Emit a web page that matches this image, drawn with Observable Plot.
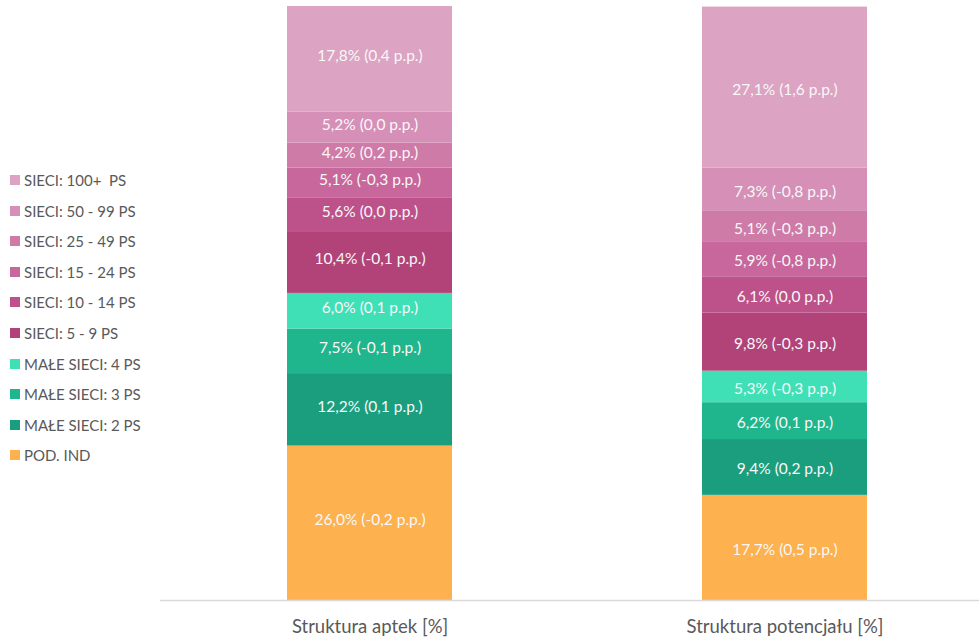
<!DOCTYPE html>
<html>
<head>
<meta charset="utf-8">
<script src="https://cdn.jsdelivr.net/npm/d3@7"></script>
<script src="https://cdn.jsdelivr.net/npm/@observablehq/plot@0.6"></script>
<style>
  html, body { margin: 0; padding: 0; background: #fff; }
  #wrap { position: relative; width: 979px; height: 638px; }
  #legend { position: absolute; left: 10px; top: 170px; font-family: Lato, "Open Sans", sans-serif; font-size: 15px; color: #595959; }
  #legend .item { height: 30.6px; display: flex; align-items: flex-start; white-space: pre; line-height: 20px; }
  #legend .sw { width: 10px; height: 10px; margin-right: 4px; margin-top: 5px; flex: none; }
</style>
</head>
<body>
<div id="wrap">
  <div id="chart"></div>
  <div id="legend"></div>
</div>
<script>
const categories = ["POD. IND", "MAŁE SIECI: 2 PS", "MAŁE SIECI: 3 PS", "MAŁE SIECI: 4 PS", "SIECI: 5 - 9 PS", "SIECI: 10 - 14 PS", "SIECI: 15 - 24 PS", "SIECI: 25 - 49 PS", "SIECI: 50 - 99 PS", "SIECI: 100+  PS"];
const colors = ["#fdb14f", "#1b9e7e", "#1fb68d", "#40e0b6", "#b14379", "#bd528a", "#c7679b", "#cf7ba8", "#d68fb6", "#dca3c3"];
const columns = ["Struktura aptek [%]", "Struktura potencjału [%]"];
const apteki = [26.0, 12.2, 7.5, 6.0, 10.4, 5.6, 5.1, 4.2, 5.2, 17.8];
const aptekiChange = [-0.2, 0.1, -0.1, 0.1, -0.1, 0.0, -0.3, 0.2, 0.0, 0.4];
const potencjal = [17.7, 9.4, 6.2, 5.3, 9.8, 6.1, 5.9, 5.1, 7.3, 27.1];
const potencjalChange = [0.5, 0.2, 0.1, -0.3, -0.3, 0.0, -0.8, -0.3, -0.8, 1.6];

const fmt = v => v.toFixed(1).replace(".", ",");
const rows = [];
categories.forEach((c, i) => {
  rows.push({col: columns[0], cat: c, value: apteki[i], change: aptekiChange[i]});
  rows.push({col: columns[1], cat: c, value: potencjal[i], change: potencjalChange[i]});
});
rows.forEach(d => d.label = `${fmt(d.value)}% (${fmt(d.change)} p.p.)`);

const textOpts = (col, dy) => Plot.stackY({
  filter: d => d.col === col,
  x: "col", y: "value", z: "cat", order: categories, text: "label",
  fill: "#f8f8f8", fontSize: 15.5, dy
});

const chart = Plot.plot({
  width: 979,
  height: 638,
  marginTop: 6,
  marginBottom: 38,
  marginLeft: 160,
  marginRight: 0,
  style: {fontFamily: "Lato, sans-serif", background: "#fff"},
  x: {domain: columns, range: [162, 992], paddingInner: 0.6024, paddingOuter: 0.301, label: null},
  y: {domain: [0, 100], axis: null},
  color: {domain: categories, range: colors},
  marks: [
    Plot.barY(rows, Plot.stackY({x: "col", y: "value", fill: "cat", order: categories})),
    Plot.text(rows, textOpts(columns[0], -3)),
    Plot.text(rows, textOpts(columns[1], 2)),
    Plot.ruleY([0], {stroke: "#d9d9d9", strokeWidth: 1.5}),
    Plot.axisX({tickSize: 0, tickPadding: 19, fontSize: 18.5, fill: "#595959", label: null, fontFamily: "Lato, sans-serif"})
  ]
});
document.getElementById("chart").appendChild(chart);

const legend = document.getElementById("legend");
categories.slice().reverse().forEach(c => {
  const i = categories.indexOf(c);
  const item = document.createElement("div");
  item.className = "item";
  const sw = document.createElement("span");
  sw.className = "sw";
  sw.style.background = colors[i];
  const t = document.createElement("span");
  t.textContent = c;
  item.appendChild(sw);
  item.appendChild(t);
  legend.appendChild(item);
});
</script>
</body>
</html>
